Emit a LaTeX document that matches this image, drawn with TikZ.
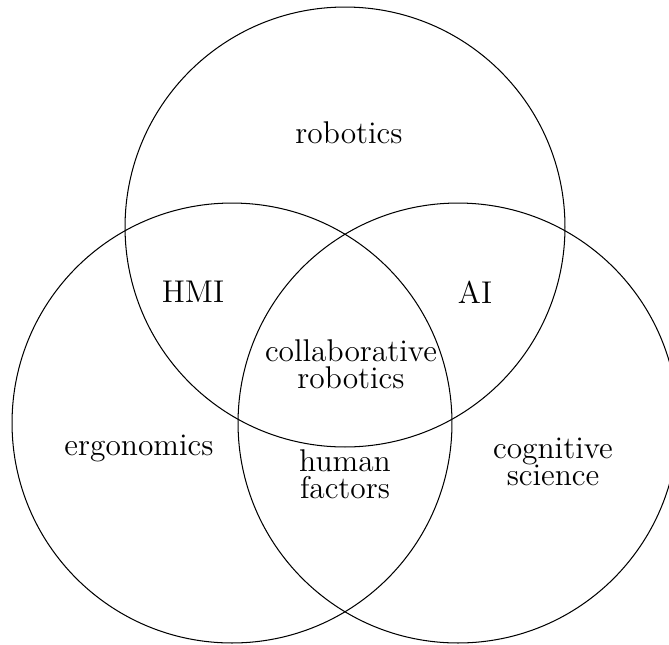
\documentclass[tikz,border=0pt]{standalone}
\begin{document}
\begin{tikzpicture}[x=0.388pt,y=-0.388pt,
  venn/.style={draw, circle, line width=0.4pt, minimum size=170.7pt, inner sep=0pt},
  lbl/.style={font=\fontsize{12.2}{10.6}\selectfont, align=center, inner sep=0pt}]
\useasboundingbox (0,0) rectangle (669,644);
\clip (0,0) rectangle (669,644);
\node[venn] (ctop) at (345,227) {};
\node[venn] (cleft) at (232,423) {};
\node[venn] (cright) at (458,423) {};
\node[lbl] (rob) at (349,133) {robotics};
\node[lbl] (hmi) at (193,292) {HMI};
\node[lbl] (ai) at (475,292) {AI};
\node[lbl] (collab) at (351,364) {collaborative\\robotics};
\node[lbl] (ergo) at (139,448) {ergonomics};
\node[lbl] (hf) at (345,474) {human\\factors};
\node[lbl] (cog) at (553,462) {cognitive\\science};
\end{tikzpicture}
\end{document}
